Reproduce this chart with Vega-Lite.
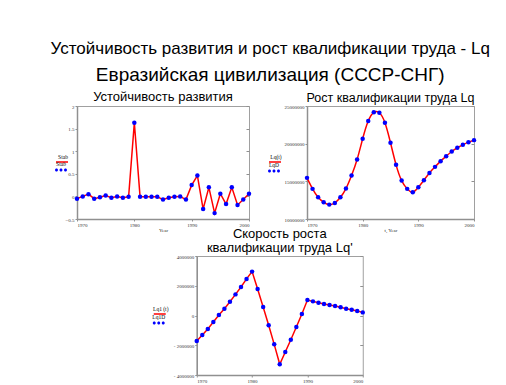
{
  "$schema": "https://vega.github.io/schema/vega-lite/v6.json",
  "background": "white",
  "padding": {"left": 50, "top": 39, "right": 4, "bottom": 0},
  "title": {
    "text": "Устойчивость развития и рост квалификации труда - Lq",
    "subtitle": "Евразийская цивилизация (СССР-СНГ)",
    "fontSize": 17,
    "subtitleFontSize": 19,
    "font": "Liberation Sans",
    "subtitleFont": "Liberation Sans",
    "fontWeight": "normal",
    "color": "black",
    "subtitleColor": "black",
    "anchor": "middle",
    "subtitlePadding": 8,
    "offset": 5
  },
  "datasets": {
    "stab": [
      {"year": 1970, "value": -0.05}, {"year": 1971, "value": 0.0}, {"year": 1972, "value": 0.05},
      {"year": 1973, "value": -0.05}, {"year": 1974, "value": -0.02}, {"year": 1975, "value": 0.02},
      {"year": 1976, "value": -0.03}, {"year": 1977, "value": 0.0}, {"year": 1978, "value": -0.03},
      {"year": 1979, "value": -0.01}, {"year": 1980, "value": 1.63}, {"year": 1981, "value": -0.01},
      {"year": 1982, "value": -0.01}, {"year": 1983, "value": -0.01}, {"year": 1984, "value": -0.01},
      {"year": 1985, "value": -0.07}, {"year": 1986, "value": -0.03}, {"year": 1987, "value": -0.01},
      {"year": 1988, "value": 0.0}, {"year": 1989, "value": -0.07}, {"year": 1990, "value": 0.25},
      {"year": 1991, "value": 0.46}, {"year": 1992, "value": -0.28}, {"year": 1993, "value": 0.2},
      {"year": 1994, "value": -0.37}, {"year": 1995, "value": 0.06}, {"year": 1996, "value": -0.17},
      {"year": 1997, "value": 0.2}, {"year": 1998, "value": -0.19}, {"year": 1999, "value": -0.07},
      {"year": 2000, "value": 0.06}
    ],
    "lq": [
      {"year": 1970, "value": 15460000}, {"year": 1971, "value": 14000000}, {"year": 1972, "value": 12880000},
      {"year": 1973, "value": 12220000}, {"year": 1974, "value": 11910000}, {"year": 1975, "value": 12130000},
      {"year": 1976, "value": 12880000}, {"year": 1977, "value": 14040000}, {"year": 1978, "value": 15770000},
      {"year": 1979, "value": 17900000}, {"year": 1980, "value": 20650000}, {"year": 1981, "value": 23000000},
      {"year": 1982, "value": 24160000}, {"year": 1983, "value": 24100000}, {"year": 1984, "value": 22780000},
      {"year": 1985, "value": 20120000}, {"year": 1986, "value": 17190000}, {"year": 1987, "value": 15100000},
      {"year": 1988, "value": 14000000}, {"year": 1989, "value": 13550000}, {"year": 1990, "value": 14210000},
      {"year": 1991, "value": 15150000}, {"year": 1992, "value": 16120000}, {"year": 1993, "value": 16920000},
      {"year": 1994, "value": 17680000}, {"year": 1995, "value": 18340000}, {"year": 1996, "value": 18960000},
      {"year": 1997, "value": 19450000}, {"year": 1998, "value": 19850000}, {"year": 1999, "value": 20200000},
      {"year": 2000, "value": 20470000}
    ],
    "lqd": [
      {"year": 1970, "value": -1720000}, {"year": 1971, "value": -1310000}, {"year": 1972, "value": -910000},
      {"year": 1973, "value": -440000}, {"year": 1974, "value": 30000}, {"year": 1975, "value": 460000},
      {"year": 1976, "value": 930000}, {"year": 1977, "value": 1420000}, {"year": 1978, "value": 1920000},
      {"year": 1979, "value": 2460000}, {"year": 1980, "value": 2950000}, {"year": 1981, "value": 1780000},
      {"year": 1982, "value": 570000}, {"year": 1983, "value": -660000}, {"year": 1984, "value": -1940000},
      {"year": 1985, "value": -3280000}, {"year": 1986, "value": -2450000}, {"year": 1987, "value": -1630000},
      {"year": 1988, "value": -770000}, {"year": 1989, "value": 100000}, {"year": 1990, "value": 1040000},
      {"year": 1991, "value": 950000}, {"year": 1992, "value": 860000}, {"year": 1993, "value": 770000},
      {"year": 1994, "value": 710000}, {"year": 1995, "value": 640000}, {"year": 1996, "value": 550000},
      {"year": 1997, "value": 460000}, {"year": 1998, "value": 390000}, {"year": 1999, "value": 300000},
      {"year": 2000, "value": 210000}
    ]
  },
  "center": true,
  "spacing": -6,
  "resolve": {"scale": {"x": "independent", "y": "independent", "stroke": "independent", "fill": "independent"}, "legend": {"stroke": "independent", "fill": "independent"}},
  "vconcat": [
    {
      "hconcat": [
        {
          "width": 172,
          "height": 113,
          "title": {"text": "Устойчивость развития", "offset": 0},
          "data": {"name": "stab"},
          "resolve": {"axis": {"y": "independent"}},
          "encoding": {
            "x": {"field": "year", "type": "quantitative", "scale": {"domain": [1970, 2000], "nice": false, "zero": false}, "axis": {"values": [1970, 1980, 1990, 2000], "format": "d", "title": "Year"}}
          },
          "layer": [
            {
              "mark": {"type": "line", "strokeWidth": 1.5},
              "encoding": {
                "y": {"field": "value", "type": "quantitative", "scale": {"domain": [-0.5, 2], "nice": false, "zero": false}, "axis": {"orient": "left", "values": [-0.5, 0, 0.5, 1, 1.5, 2], "format": "~g", "title": null}},
                "stroke": {"datum": "line", "scale": {"range": ["red"]}, "legend": {"orient": "none", "legendX": -22, "legendY": 46.6, "title": null, "symbolType": "M-1,0.4H1", "symbolSize": 144, "symbolStrokeWidth": 1.5, "labelExpr": "'Stab'", "labelAlign": "center", "labelBaseline": "bottom", "labelOffset": -6}}
              }
            },
            {
              "mark": {"type": "point", "filled": true, "size": 20, "opacity": 1},
              "encoding": {
                "y": {"field": "value", "type": "quantitative", "axis": {"orient": "right", "values": [-0.5, 0, 0.5, 1, 1.5, 2], "labels": false, "domain": false, "tickSize": -3, "title": null}},
                "fill": {"datum": "dots", "scale": {"range": ["blue"]}, "legend": {"orient": "none", "legendX": -22, "legendY": 55.3, "title": null, "symbolType": "M-1,0.45a0.25,0.25 0 1,0 0.5,0a0.25,0.25 0 1,0 -0.5,0M-0.25,0.45a0.25,0.25 0 1,0 0.5,0a0.25,0.25 0 1,0 -0.5,0M0.5,0.45a0.25,0.25 0 1,0 0.5,0a0.25,0.25 0 1,0 -0.5,0", "symbolSize": 144, "symbolStrokeWidth": 0, "labelExpr": "'Stab'", "labelAlign": "center", "labelBaseline": "bottom", "labelOffset": -6}}
              }
            }
          ]
        },
        {
          "width": 167,
          "height": 113,
          "title": {"text": "Рост квалификации труда Lq", "offset": 0, "fontSize": 12.5},
          "data": {"name": "lq"},
          "resolve": {"axis": {"y": "independent"}},
          "encoding": {
            "x": {"field": "year", "type": "quantitative", "scale": {"domain": [1970, 2000], "nice": false, "zero": false}, "axis": {"values": [1970, 1980, 1990, 2000], "format": "d", "title": "t, Year"}}
          },
          "layer": [
            {
              "mark": {"type": "line", "strokeWidth": 1.5, "interpolate": "natural"},
              "encoding": {
                "y": {"field": "value", "type": "quantitative", "scale": {"domain": [10000000, 25000000], "nice": false, "zero": false}, "axis": {"orient": "left", "values": [10000000, 15000000, 20000000, 25000000], "format": "d", "title": null}},
                "stroke": {"datum": "line", "scale": {"range": ["red"]}, "legend": {"orient": "none", "legendX": -39, "legendY": 46.6, "title": null, "symbolType": "M-1,0.4H1", "symbolSize": 144, "symbolStrokeWidth": 1.5, "labelExpr": "'Lq(t)'", "labelAlign": "center", "labelBaseline": "bottom", "labelOffset": -6}}
              }
            },
            {
              "mark": {"type": "point", "filled": true, "size": 20, "opacity": 1},
              "encoding": {
                "y": {"field": "value", "type": "quantitative", "axis": {"orient": "right", "values": [10000000, 15000000, 20000000, 25000000], "labels": false, "domain": false, "tickSize": -3, "title": " ", "titlePadding": 6}},
                "fill": {"datum": "dots", "scale": {"range": ["blue"]}, "legend": {"orient": "none", "legendX": -39, "legendY": 56.3, "title": null, "symbolType": "M-1,0.45a0.25,0.25 0 1,0 0.5,0a0.25,0.25 0 1,0 -0.5,0M-0.25,0.45a0.25,0.25 0 1,0 0.5,0a0.25,0.25 0 1,0 -0.5,0M0.5,0.45a0.25,0.25 0 1,0 0.5,0a0.25,0.25 0 1,0 -0.5,0", "symbolSize": 144, "symbolStrokeWidth": 0, "labelExpr": "'LqD'", "labelAlign": "center", "labelBaseline": "bottom", "labelOffset": -6}}
              }
            }
          ]
        }
      ],
      "spacing": 14,
      "resolve": {"scale": {"x": "independent", "y": "independent", "stroke": "independent", "fill": "independent"}, "legend": {"stroke": "independent", "fill": "independent"}}
    },
    {
      "width": 166,
      "height": 119,
      "title": {"text": ["Скорость роста", "квалификации труда Lq'"], "lineHeight": 14, "offset": -1},
      "data": {"name": "lqd"},
      "resolve": {"axis": {"y": "independent"}},
      "encoding": {
        "x": {"field": "year", "type": "quantitative", "scale": {"domain": [1970, 2000], "nice": false, "zero": false}, "axis": {"values": [1970, 1980, 1990, 2000], "format": "d", "title": null}}
      },
      "layer": [
        {
          "mark": {"type": "line", "strokeWidth": 1.5},
          "encoding": {
            "y": {"field": "value", "type": "quantitative", "scale": {"domain": [-4000000, 4000000], "nice": false, "zero": false}, "axis": {"orient": "left", "values": [-4000000, -2000000, 0, 2000000, 4000000], "labelExpr": "datum.value < 0 ? '- ' + format(abs(datum.value), 'd') : format(datum.value, 'd')", "title": null}},
            "stroke": {"datum": "line", "scale": {"range": ["red"]}, "legend": {"orient": "none", "legendX": -44, "legendY": 48.6, "title": null, "symbolType": "M-1,0.4H1", "symbolSize": 144, "symbolStrokeWidth": 1.5, "labelExpr": "'Lq1 (t)'", "labelAlign": "center", "labelBaseline": "bottom", "labelOffset": -6}}
          }
        },
        {
          "mark": {"type": "point", "filled": true, "size": 20, "opacity": 1},
          "encoding": {
            "y": {"field": "value", "type": "quantitative", "axis": {"orient": "right", "values": [-4000000, -2000000, 0, 2000000, 4000000], "labels": false, "domain": false, "tickSize": -3, "title": null}},
            "fill": {"datum": "dots", "scale": {"range": ["blue"]}, "legend": {"orient": "none", "legendX": -44, "legendY": 58.3, "title": null, "symbolType": "M-1,0.45a0.25,0.25 0 1,0 0.5,0a0.25,0.25 0 1,0 -0.5,0M-0.25,0.45a0.25,0.25 0 1,0 0.5,0a0.25,0.25 0 1,0 -0.5,0M0.5,0.45a0.25,0.25 0 1,0 0.5,0a0.25,0.25 0 1,0 -0.5,0", "symbolSize": 144, "symbolStrokeWidth": 0, "labelExpr": "'Lq1D'", "labelAlign": "center", "labelBaseline": "bottom", "labelOffset": -6}}
          }
        }
      ]
    }
  ],
  "config": {
    "font": "Liberation Sans",
    "view": {"stroke": "#a0a0a0", "strokeWidth": 1},
    "axis": {
      "labelFont": "Liberation Serif", "labelFontSize": 5, "labelColor": "#333333",
      "domainColor": "#909090", "domainWidth": 1.5, "tickColor": "#909090", "tickSize": 2,
      "grid": false, "titleFont": "Liberation Serif", "titleFontSize": 5, "titleFontWeight": "normal",
      "titleColor": "#333333", "labelPadding": 1, "titlePadding": 0
    },
    "legend": {"labelFont": "Liberation Serif", "labelFontSize": 5.5, "labelColor": "black", "padding": 0},
    "title": {"font": "Liberation Sans", "fontWeight": "normal", "fontSize": 13, "color": "black", "offset": 4}
  }
}
